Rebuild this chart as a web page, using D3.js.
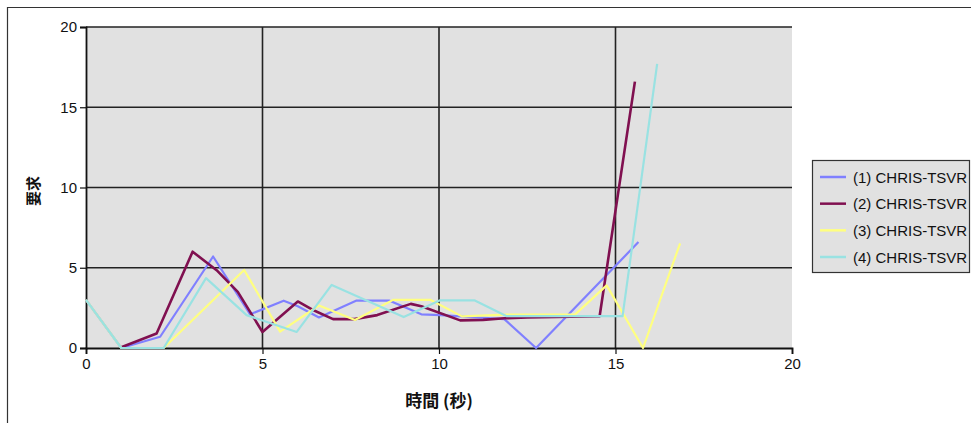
<!DOCTYPE html>
<html>
<head>
<meta charset="utf-8">
<script src="https://cdn.jsdelivr.net/npm/d3@7"></script>
<style>
  html, body { margin: 0; padding: 0; background: #fff; }
  svg { display: block; font-family: "Liberation Sans", Arial, sans-serif; }
</style>
</head>
<body>
<svg id="chart" width="971" height="423"></svg>
<script>
// Request counts over time for four client runs: [seconds, requests]
const seriesNames = ["(1) CHRIS-TSVR", "(2) CHRIS-TSVR", "(3) CHRIS-TSVR", "(4) CHRIS-TSVR"];
const seriesColors = ["#8080ff", "#801050", "#ffff80", "#99e2e2"];
const seriesWidths = [2.2, 2.6, 2.2, 2.2];

const run1 = [[0, 3], [1, 0], [2.1, 0.7], [3.6, 5.7], [4.65, 2.1], [5.6, 2.95], [6.0, 2.6],
  [6.6, 1.9], [7.65, 2.95], [8.6, 2.95], [9.5, 2.1], [10.05, 2.05], [11.85, 1.8],
  [12.75, 0], [15.65, 6.6]];
const run2 = [[1, 0.05], [2, 0.9], [3.02, 6.0], [3.7, 4.85], [4.3, 3.5], [5.0, 1.0],
  [6.0, 2.9], [6.4, 2.4], [7.0, 1.8], [7.6, 1.8], [8.25, 2.05], [9.2, 2.75], [9.5, 2.6],
  [10.6, 1.72], [11.25, 1.75], [11.85, 1.85], [12.5, 1.9], [14.55, 1.98], [15.55, 16.6]];
const run3 = [[0, 3], [1, 0], [2.2, 0], [4.48, 4.86], [5.5, 1.02], [6.6, 2.65], [7.62, 1.74],
  [8.7, 3.0], [9.75, 3.0], [10.65, 1.97], [11.9, 2.08], [13.85, 2.08], [14.75, 3.9],
  [15.78, 0], [16.83, 6.52]];
const run4 = [[0, 3], [1, 0], [2.2, 0], [3.4, 4.35], [4.55, 2.05], [5.97, 1.0], [6.96, 3.93],
  [9.0, 1.93], [10.03, 2.97], [11.0, 2.97], [11.92, 1.98], [15.2, 1.98], [16.18, 17.7]];
const runs = [run1, run2, run3, run4];

const xTicks = [0, 5, 10, 15, 20];
const yTicks = [0, 5, 10, 15, 20];
const xTitle = "時間 (秒)";
const yTitle = "要求";

const svg = d3.select("#chart");
const plot = { left: 86, top: 27, right: 792, bottom: 348 };

const x = d3.scaleLinear().domain([0, 20]).range([plot.left, plot.right]);
const y = d3.scaleLinear().domain([0, 20]).range([plot.bottom, plot.top]);

// Outer chart frame (runs off the right and bottom edges)
svg.append("path")
  .attr("d", "M7.5,430 V7.5 H980")
  .attr("fill", "none").attr("stroke", "#333").attr("stroke-width", 1.2);

// Plot area background
svg.append("rect")
  .attr("x", plot.left).attr("y", plot.top)
  .attr("width", plot.right - plot.left).attr("height", plot.bottom - plot.top)
  .attr("fill", "#e1e1e1");

// Gridlines
const grid = svg.append("g").attr("stroke", "#222").attr("stroke-width", 1.6);
grid.selectAll("line.h").data(yTicks.filter(d => d > 0)).join("line")
  .attr("x1", plot.left).attr("x2", plot.right)
  .attr("y1", d => y(d)).attr("y2", d => y(d));
grid.selectAll("line.v").data(xTicks.filter(d => d > 0 && d < 20)).join("line")
  .attr("y1", plot.top).attr("y2", plot.bottom)
  .attr("x1", d => x(d)).attr("x2", d => x(d));

// Axes
const xAxis = d3.axisBottom(x).tickValues(xTicks).tickSize(6).tickPadding(4);
const yAxis = d3.axisLeft(y).tickValues(yTicks).tickSize(6).tickPadding(3);

const gx = svg.append("g").attr("transform", `translate(0,${plot.bottom})`).call(xAxis);
const gy = svg.append("g").attr("transform", `translate(${plot.left},0)`).call(yAxis);
[gx, gy].forEach(g => {
  g.select(".domain").attr("stroke", "#111").attr("stroke-width", 1.8);
  g.selectAll(".tick line").attr("stroke", "#111").attr("stroke-width", 1.2);
  g.selectAll(".tick text").attr("fill", "#111")
    .style("font-size", "15px").style("font-family", "\"Liberation Sans\", Arial, sans-serif");
});

// Series lines
const line = d3.line().x(d => x(d[0])).y(d => y(d[1]));
svg.append("g").selectAll("path").data(runs).join("path")
  .attr("d", line)
  .attr("fill", "none")
  .attr("stroke", (d, i) => seriesColors[i])
  .attr("stroke-width", (d, i) => seriesWidths[i])
  .attr("stroke-linejoin", "round");

// Axis titles
svg.append("text")
  .attr("x", (plot.left + plot.right) / 2).attr("y", 407)
  .attr("text-anchor", "middle")
  .attr("font-family", "\"Noto Sans CJK TC\", sans-serif")
  .attr("font-weight", "bold").attr("font-size", 17).attr("fill", "#111")
  .text(xTitle);

svg.append("text")
  .attr("transform", "translate(39,191) rotate(-90)")
  .attr("text-anchor", "middle")
  .attr("font-family", "\"Noto Sans CJK TC\", sans-serif")
  .attr("font-weight", "bold").attr("font-size", 15).attr("fill", "#111")
  .text(yTitle);

// Legend
const legend = svg.append("g");
legend.append("rect")
  .attr("x", 812.5).attr("y", 160.5).attr("width", 157).attr("height", 112)
  .attr("fill", "#e1e1e1").attr("stroke", "#333").attr("stroke-width", 1.2);
const rowY = d3.scalePoint().domain(d3.range(seriesNames.length)).range([177, 257]);
const items = legend.selectAll("g.item").data(seriesNames).join("g")
  .attr("transform", (d, i) => `translate(0,${rowY(i)})`);
items.append("line")
  .attr("x1", 820).attr("x2", 846).attr("y1", 0).attr("y2", 0)
  .attr("stroke", (d, i) => seriesColors[i]).attr("stroke-width", 2.5);
items.append("text")
  .attr("x", 853).attr("y", 5.5)
  .attr("font-size", 15).attr("fill", "#111")
  .text(d => d);
</script>
</body>
</html>
